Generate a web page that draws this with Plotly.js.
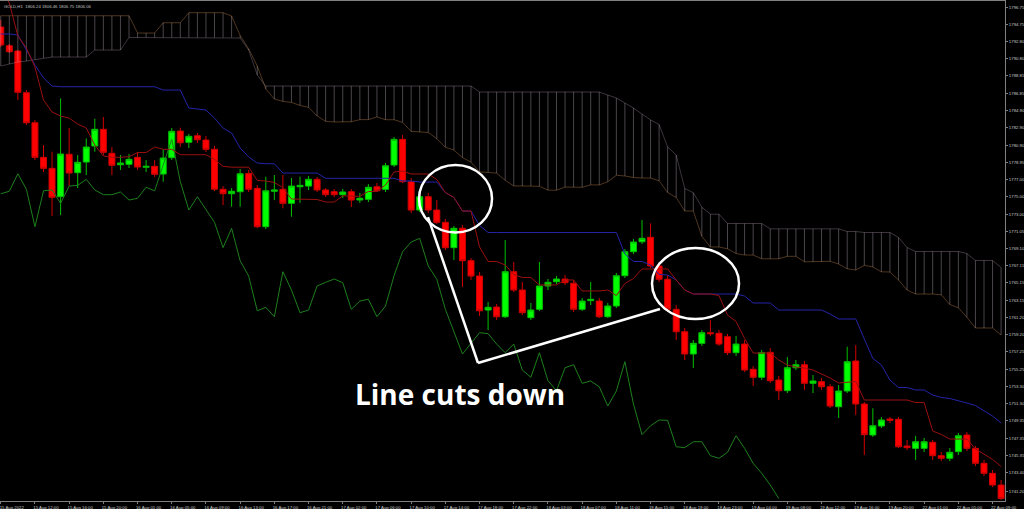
<!DOCTYPE html>
<html><head><meta charset="utf-8">
<script src="https://cdn.plot.ly/plotly-3.0.1.min.js"></script>
<style>html,body{margin:0;padding:0;background:#000;}#chart{width:1024px;height:509px;}</style>
</head><body><div id="chart"></div>
<script>
const symbolTitle = "GOLD,H1  1806.24 1806.46 1806.75 1806.06";
const annotationText = "Line cuts down";

const timeLabels = ["15 Aug 2022","15 Aug 12:00","15 Aug 16:00","15 Aug 20:00","16 Aug 01:00","16 Aug 05:00","16 Aug 09:00","16 Aug 13:00","16 Aug 17:00","16 Aug 21:00","17 Aug 02:00","17 Aug 06:00","17 Aug 10:00","17 Aug 14:00","17 Aug 18:00","17 Aug 22:00","18 Aug 03:00","18 Aug 07:00","18 Aug 11:00","18 Aug 15:00","18 Aug 19:00","18 Aug 23:00","19 Aug 04:00","19 Aug 08:00","19 Aug 12:00","19 Aug 16:00","19 Aug 20:00","22 Aug 01:00","22 Aug 05:00","22 Aug 09:00"];
const timeLabelBars = [0,4,8,12,16,20,24,28,32,36,40,44,48,52,56,60,64,68,72,76,80,84,88,92,96,100,104,108,112,116];

const priceLabels = ["1796.75","1794.75","1792.80","1790.80","1788.85","1786.85","1784.90","1782.90","1780.90","1778.95","1777.00","1775.00","1773.00","1771.05","1769.10","1767.15","1765.15","1763.15","1761.20","1759.20","1757.25","1755.25","1753.30","1751.30","1749.35","1747.35","1745.35","1743.40","1741.20"];

const opens = [1794.46,1792.32,1791.71,1786.93,1783.49,1779.53,1778.27,1775.02,1779.88,1777.77,
1778.99,1780.83,1782.74,1779.99,1778.68,1778.73,1779.53,1778.39,1778.50,1777.62,
1779.49,1782.54,1781.25,1782.01,1781.51,1780.45,1775.87,1775.36,1775.59,1777.67,
1775.98,1771.58,1775.64,1775.87,1774.26,1776.16,1776.24,1777.01,1775.79,1775.59,
1775.25,1775.59,1774.64,1774.72,1776.16,1775.87,1778.65,1781.59,1776.74,1773.49,
1775.02,1773.49,1772.08,1769.18,1771.40,1767.69,1765.93,1762.04,1762.38,1761.27,
1766.43,1764.33,1761.16,1762.12,1764.79,1765.28,1765.59,1765.10,1762.12,1763.11,
1763.07,1761.27,1762.50,1765.97,1768.72,1769.86,1770.37,1767.08,1765.56,1762.12,
1759.55,1757.00,1758.22,1759.44,1759.37,1758.98,1757.15,1758.14,1755.25,1754.33,
1757.19,1754.02,1752.80,1755.43,1755.77,1753.64,1753.83,1753.25,1750.96,1752.76,
1756.20,1751.27,1747.72,1748.75,1749.55,1749.52,1746.46,1746.19,1746.19,1746.88,
1745.35,1745.05,1745.81,1747.72,1746.19,1744.48,1743.33,1741.99];

const highs = [1795.26,1792.51,1791.82,1787.24,1783.80,1780.94,1780.17,1786.29,1782.89,1779.79,
1781.71,1783.95,1784.15,1780.71,1779.79,1779.91,1780.14,1779.22,1779.22,1780.45,
1782.89,1782.92,1782.20,1782.31,1781.97,1780.83,1776.24,1776.01,1778.19,1778.08,
1776.36,1777.31,1777.50,1777.50,1777.16,1777.31,1777.39,1777.27,1776.01,1775.90,
1775.90,1775.90,1775.44,1776.47,1776.59,1778.88,1781.86,1782.09,1777.16,1775.33,
1775.44,1774.64,1772.46,1771.66,1771.78,1768.00,1766.39,1762.96,1762.73,1770.06,
1767.54,1765.25,1762.84,1767.54,1765.59,1765.93,1766.05,1765.48,1763.41,1765.25,
1763.41,1762.84,1766.28,1769.03,1770.17,1772.35,1771.97,1767.54,1766.05,1762.61,
1759.98,1758.60,1759.75,1760.89,1759.75,1759.29,1759.06,1758.60,1755.62,1757.46,
1757.69,1754.48,1756.65,1756.31,1756.20,1754.59,1754.25,1753.56,1753.45,1757.83,
1758.03,1751.50,1750.78,1749.78,1749.78,1749.78,1747.15,1747.61,1747.38,1747.15,
1745.77,1746.23,1747.95,1748.06,1746.46,1744.86,1743.71,1742.57];

const lows = [1792.17,1791.48,1786.10,1783.23,1779.22,1777.85,1772.81,1772.92,1776.24,1776.01,
1777.50,1780.17,1779.79,1777.50,1778.08,1778.31,1778.08,1777.85,1777.27,1776.74,
1779.22,1780.71,1780.60,1781.17,1780.14,1775.67,1774.07,1773.87,1773.87,1775.56,
1771.43,1771.32,1774.64,1773.69,1772.73,1774.30,1775.79,1775.56,1774.98,1774.98,
1774.87,1773.84,1774.30,1774.41,1775.56,1775.56,1778.42,1776.59,1773.15,1773.27,
1773.15,1771.89,1768.91,1767.77,1764.67,1765.48,1761.35,1759.75,1760.89,1761.12,
1764.10,1761.47,1760.89,1761.93,1764.33,1765.02,1764.90,1761.81,1761.93,1762.61,
1761.12,1761.12,1762.27,1765.71,1768.45,1769.60,1766.85,1765.25,1761.81,1758.60,
1756.31,1755.40,1757.92,1759.06,1757.92,1756.88,1756.77,1754.94,1753.33,1754.02,
1753.68,1751.73,1752.53,1755.17,1752.88,1752.53,1752.88,1750.81,1749.67,1752.53,
1750.01,1745.43,1747.49,1748.52,1749.09,1746.23,1746.00,1744.86,1745.77,1744.86,
1744.74,1744.74,1745.43,1745.89,1744.17,1743.02,1741.76,1740.30];

const closes = [1792.40,1791.63,1786.98,1783.49,1779.53,1778.27,1774.95,1779.91,1777.73,1778.96,
1780.71,1782.74,1780.10,1778.61,1778.88,1779.30,1778.42,1778.50,1777.58,1779.45,
1782.51,1781.20,1781.94,1781.55,1780.45,1775.87,1775.36,1775.64,1777.65,1775.87,
1771.58,1775.70,1775.79,1774.26,1776.24,1776.32,1777.01,1775.79,1775.25,1775.25,
1775.56,1774.64,1774.84,1776.10,1775.70,1778.57,1781.59,1776.74,1773.49,1775.02,
1773.49,1772.08,1769.18,1771.40,1767.69,1765.93,1761.95,1762.35,1761.27,1766.43,
1764.33,1761.73,1762.04,1764.79,1765.21,1765.59,1765.17,1762.12,1763.07,1763.27,
1761.27,1762.50,1765.97,1768.72,1769.83,1770.25,1767.08,1765.56,1762.12,1759.55,
1757.00,1758.22,1759.44,1759.33,1758.14,1757.15,1758.14,1755.17,1754.33,1757.15,
1753.94,1752.80,1755.43,1755.77,1753.64,1753.91,1753.25,1751.04,1752.76,1756.12,
1751.27,1747.76,1748.78,1749.44,1749.40,1746.38,1746.27,1746.95,1746.95,1745.35,
1745.05,1745.74,1747.64,1746.19,1744.48,1743.33,1741.99,1740.45];

const tenkan = [1798.93,1797.21,1793.43,1792.05,1789.88,1786.10,1784.72,1784.26,1784.03,1783.35,
1782.89,1780.94,1779.68,1779.54,1779.54,1779.60,1780.08,1780.08,1780.71,1780.45,
1780.45,1779.83,1779.83,1779.83,1779.83,1779.30,1778.50,1778.40,1778.40,1778.40,
1776.88,1776.82,1776.65,1776.07,1774.76,1774.76,1774.76,1774.70,1774.41,1774.41,
1775.12,1775.12,1775.07,1775.62,1775.62,1776.36,1777.85,1777.96,1777.62,1777.62,
1777.62,1776.99,1775.50,1774.93,1773.38,1773.38,1769.26,1767.60,1767.60,1767.20,
1766.11,1765.76,1765.76,1764.91,1764.91,1764.91,1765.48,1765.48,1764.22,1764.22,
1764.22,1764.33,1763.70,1765.08,1765.65,1766.74,1766.74,1766.74,1766.74,1765.48,
1764.33,1763.87,1763.87,1763.87,1763.70,1761.47,1760.72,1758.78,1757.11,1757.11,
1757.11,1756.31,1755.74,1755.51,1755.40,1755.17,1754.71,1754.25,1753.68,1753.76,
1753.85,1751.73,1751.73,1751.73,1751.73,1751.73,1751.73,1751.44,1751.44,1748.18,
1747.78,1747.26,1747.26,1747.26,1746.12,1745.54,1744.92,1744.11];

const kijun = [1793.66,1793.66,1793.54,1791.82,1790.11,1788.62,1787.70,1787.62,1787.62,1787.62,
1787.62,1787.62,1787.62,1787.62,1787.62,1787.62,1787.62,1787.62,1787.62,1787.24,
1787.24,1787.24,1785.18,1785.07,1784.95,1784.03,1782.89,1782.32,1780.60,1779.57,
1778.88,1778.80,1778.80,1777.73,1777.73,1777.73,1777.73,1777.73,1777.13,1777.13,
1777.13,1777.13,1777.13,1777.13,1777.13,1777.13,1777.13,1776.82,1776.82,1776.70,
1776.70,1776.70,1775.50,1774.93,1773.38,1773.38,1771.72,1770.92,1770.92,1770.92,
1770.92,1770.92,1770.92,1770.92,1770.92,1770.92,1770.92,1770.92,1770.92,1770.92,
1770.92,1770.92,1770.92,1768.46,1767.60,1767.60,1767.20,1766.11,1766.05,1765.48,
1764.33,1763.87,1763.87,1763.87,1763.87,1763.87,1763.87,1763.64,1762.84,1762.84,
1762.84,1762.04,1762.04,1762.04,1762.04,1762.04,1762.04,1761.58,1761.01,1761.01,
1761.01,1758.72,1756.49,1755.74,1754.02,1753.16,1753.16,1752.88,1752.88,1752.30,
1752.02,1751.90,1751.67,1751.39,1751.10,1750.53,1749.89,1749.10];

const chikou = [1775.36,1775.64,1777.65,1775.87,1771.58,1775.70,1775.79,1774.26,1776.24,1776.32,
1777.01,1775.79,1775.25,1775.25,1775.56,1774.64,1774.84,1776.10,1775.70,1778.57,
1781.59,1776.74,1773.49,1775.02,1773.49,1772.08,1769.18,1771.40,1767.69,1765.93,
1761.95,1762.35,1761.27,1766.43,1764.33,1761.73,1762.04,1764.79,1765.21,1765.59,
1765.17,1762.12,1763.07,1763.27,1761.27,1762.50,1765.97,1768.72,1769.83,1770.25,
1767.08,1765.56,1762.12,1759.55,1757.00,1758.22,1759.44,1759.33,1758.14,1757.15,
1758.14,1755.17,1754.33,1757.15,1753.94,1752.80,1755.43,1755.77,1753.64,1753.91,
1753.25,1751.04,1752.76,1756.12,1751.27,1747.76,1748.78,1749.44,1749.40,1746.38,
1746.27,1746.95,1746.95,1745.35,1745.05,1745.74,1747.64,1746.19,1744.48,1743.33,
1741.99,1740.45];

const spanA = [1795.75,1795.75,1795.75,1795.75,1795.75,1795.75,1795.75,1795.75,1795.75,1795.75,
1795.75,1795.75,1795.75,1795.75,1795.75,1795.75,1793.77,1793.77,1793.77,1794.95,
1794.95,1794.95,1796.10,1796.10,1796.10,1796.10,1796.10,1795.72,1793.49,1791.94,
1789.99,1787.36,1786.21,1785.94,1785.82,1785.48,1785.25,1784.28,1783.65,1783.58,
1783.58,1783.61,1783.85,1783.85,1784.16,1783.84,1783.84,1783.53,1782.50,1782.44,
1782.38,1781.66,1780.69,1780.36,1779.50,1778.98,1777.87,1777.80,1777.72,1776.90,
1776.25,1776.25,1776.25,1776.21,1775.77,1775.77,1776.12,1776.12,1776.10,1776.37,
1776.37,1776.74,1777.48,1777.39,1777.22,1777.16,1777.16,1776.84,1775.50,1774.93,
1773.38,1773.38,1770.48,1769.26,1769.26,1769.05,1768.51,1768.34,1768.34,1767.91,
1767.91,1767.91,1768.19,1768.19,1767.56,1767.56,1767.56,1767.62,1767.31,1766.76,
1766.62,1767.16,1766.97,1766.42,1766.39,1765.48,1764.33,1763.87,1763.87,1763.87,
1763.78,1762.67,1762.29,1761.21,1759.98,1759.98,1759.98,1759.18];

const spanB = [1789.99,1790.22,1790.45,1790.56,1790.74,1790.91,1791.02,1791.02,1791.02,1791.02,
1791.02,1791.82,1791.82,1791.82,1791.82,1793.26,1793.26,1793.26,1793.26,1793.26,
1793.26,1793.26,1793.26,1793.26,1793.26,1793.26,1793.26,1793.26,1793.20,1791.82,
1788.96,1787.70,1787.70,1787.70,1787.70,1787.70,1787.70,1787.70,1787.70,1787.70,
1787.70,1787.70,1787.70,1787.70,1787.70,1787.70,1787.70,1787.70,1787.70,1787.70,
1787.70,1787.70,1787.70,1787.70,1787.70,1787.70,1787.01,1787.01,1787.01,1787.01,
1787.01,1787.01,1787.01,1787.01,1787.01,1787.01,1787.01,1787.01,1787.01,1787.01,
1787.01,1786.67,1786.33,1785.75,1785.18,1784.49,1783.81,1783.29,1780.71,1779.80,
1775.96,1775.48,1773.82,1773.02,1773.02,1771.95,1771.95,1771.95,1771.95,1771.95,
1771.34,1771.34,1771.34,1771.34,1771.34,1771.34,1771.34,1771.34,1771.34,1771.03,
1771.03,1770.92,1770.92,1770.92,1770.92,1770.35,1769.20,1768.74,1768.74,1768.74,
1768.74,1768.74,1768.74,1768.51,1767.71,1767.71,1767.71,1766.91];

// Drawn call-outs (bar index / price units)
const callouts = {
  ellipse1: {x0: 48.92, x1: 57.46, y0: 1770.92, y1: 1778.65},
  ellipse2: {x0: 76.17, x1: 86.35, y0: 1761.01, y1: 1769.14},
  lineStart: {x: 49.97, y: 1772.69},
  lineVertex: {x: 55.82, y: 1755.97},
  lineEnd: {x: 77.10, y: 1762.16},
  label: {x: 53.7, y: 1752.42}
};

const bars = opens.map((_, i) => i);
const chikouBars = chikou.map((_, i) => i);

const hatchX = [], hatchY = [];
bars.forEach(i => { hatchX.push(i, i, null); hatchY.push(spanA[i], spanB[i], null); });

const traces = [
  {type:'scatter', mode:'lines', x:hatchX, y:hatchY, line:{color:'rgba(205,190,205,0.36)', width:1}, hoverinfo:'skip', connectgaps:false},
  {type:'scatter', mode:'lines', x:bars, y:spanA, line:{color:'rgba(244,164,96,0.32)', width:1}, hoverinfo:'skip'},
  {type:'scatter', mode:'lines', x:bars, y:spanB, line:{color:'rgba(216,191,216,0.28)', width:1}, hoverinfo:'skip'},
  {type:'scatter', mode:'lines', x:chikouBars, y:chikou, line:{color:'#1d7f1d', width:1}, hoverinfo:'skip'},
  {type:'scatter', mode:'lines', x:bars, y:kijun, line:{color:'#2424a8', width:1}, hoverinfo:'skip'},
  {type:'scatter', mode:'lines', x:bars, y:tenkan, line:{color:'#9a1010', width:1}, hoverinfo:'skip'},
  {type:'candlestick', x:bars, open:opens, high:highs, low:lows, close:closes,
   increasing:{line:{color:'#00c000', width:1}, fillcolor:'#00ff00'},
   decreasing:{line:{color:'#d00000', width:1}, fillcolor:'#ff0000'},
   whiskerwidth:0, hoverinfo:'skip'}
];

const axisFont = {family:'Liberation Sans, Arial, sans-serif', size:4.3, color:'#c8c8c8'};
const white = '#ffffff';

const layout = {
  width:1024, height:509,
  margin:{l:0, r:19, t:1, b:8, pad:0},
  paper_bgcolor:'#000000', plot_bgcolor:'#000000',
  showlegend:false,
  boxgap:0.3, boxgroupgap:0,
  font:axisFont,
  xaxis:{range:[-0.0877,117.456], tickmode:'array', tickvals:timeLabelBars, ticktext:timeLabels,
    ticks:'outside', ticklen:2, tickcolor:'#808080', tickfont:axisFont, ticklabelshift:11, tickangle:0,
    ticklabeloverflow:'allow',
    showgrid:false, zeroline:false, showline:true, linecolor:'#808080', linewidth:1, mirror:true,
    rangeslider:{visible:false}, fixedrange:true},
  yaxis:{side:'right', range:[1740.16,1797.44], tickmode:'array', tickvals:priceLabels.map(Number), ticktext:priceLabels,
    ticks:'outside', ticklen:2, tickcolor:'#808080', tickfont:axisFont, ticklabeloverflow:'allow',
    showgrid:false, zeroline:false, showline:true, linecolor:'#808080', linewidth:1, mirror:true, fixedrange:true},
  shapes:[
    {type:'circle', xref:'x', yref:'y', x0:callouts.ellipse1.x0, x1:callouts.ellipse1.x1, y0:callouts.ellipse1.y0, y1:callouts.ellipse1.y1, line:{color:white, width:2.5}},
    {type:'circle', xref:'x', yref:'y', x0:callouts.ellipse2.x0, x1:callouts.ellipse2.x1, y0:callouts.ellipse2.y0, y1:callouts.ellipse2.y1, line:{color:white, width:2.5}},
    {type:'line', xref:'x', yref:'y', x0:callouts.lineStart.x, y0:callouts.lineStart.y, x1:callouts.lineVertex.x, y1:callouts.lineVertex.y, line:{color:white, width:2.5}},
    {type:'line', xref:'x', yref:'y', x0:callouts.lineVertex.x, y0:callouts.lineVertex.y, x1:callouts.lineEnd.x, y1:callouts.lineEnd.y, line:{color:white, width:2.5}}
  ],
  annotations:[
    {xref:'x', yref:'y', x:callouts.label.x, y:callouts.label.y, text:annotationText, showarrow:false,
     xanchor:'center', yanchor:'middle', font:{family:'Open Sans, sans-serif', size:28, color:white, weight:700}},
    {xref:'paper', yref:'paper', x:0, y:1, xanchor:'left', yanchor:'top', xshift:2, yshift:-1, text:symbolTitle, showarrow:false,
     font:{family:'Liberation Sans, Arial, sans-serif', size:4.3, color:'#c0c0c0'}}
  ]
};

Plotly.newPlot('chart', traces, layout, {staticPlot:true, displayModeBar:false});
</script>
</body></html>
